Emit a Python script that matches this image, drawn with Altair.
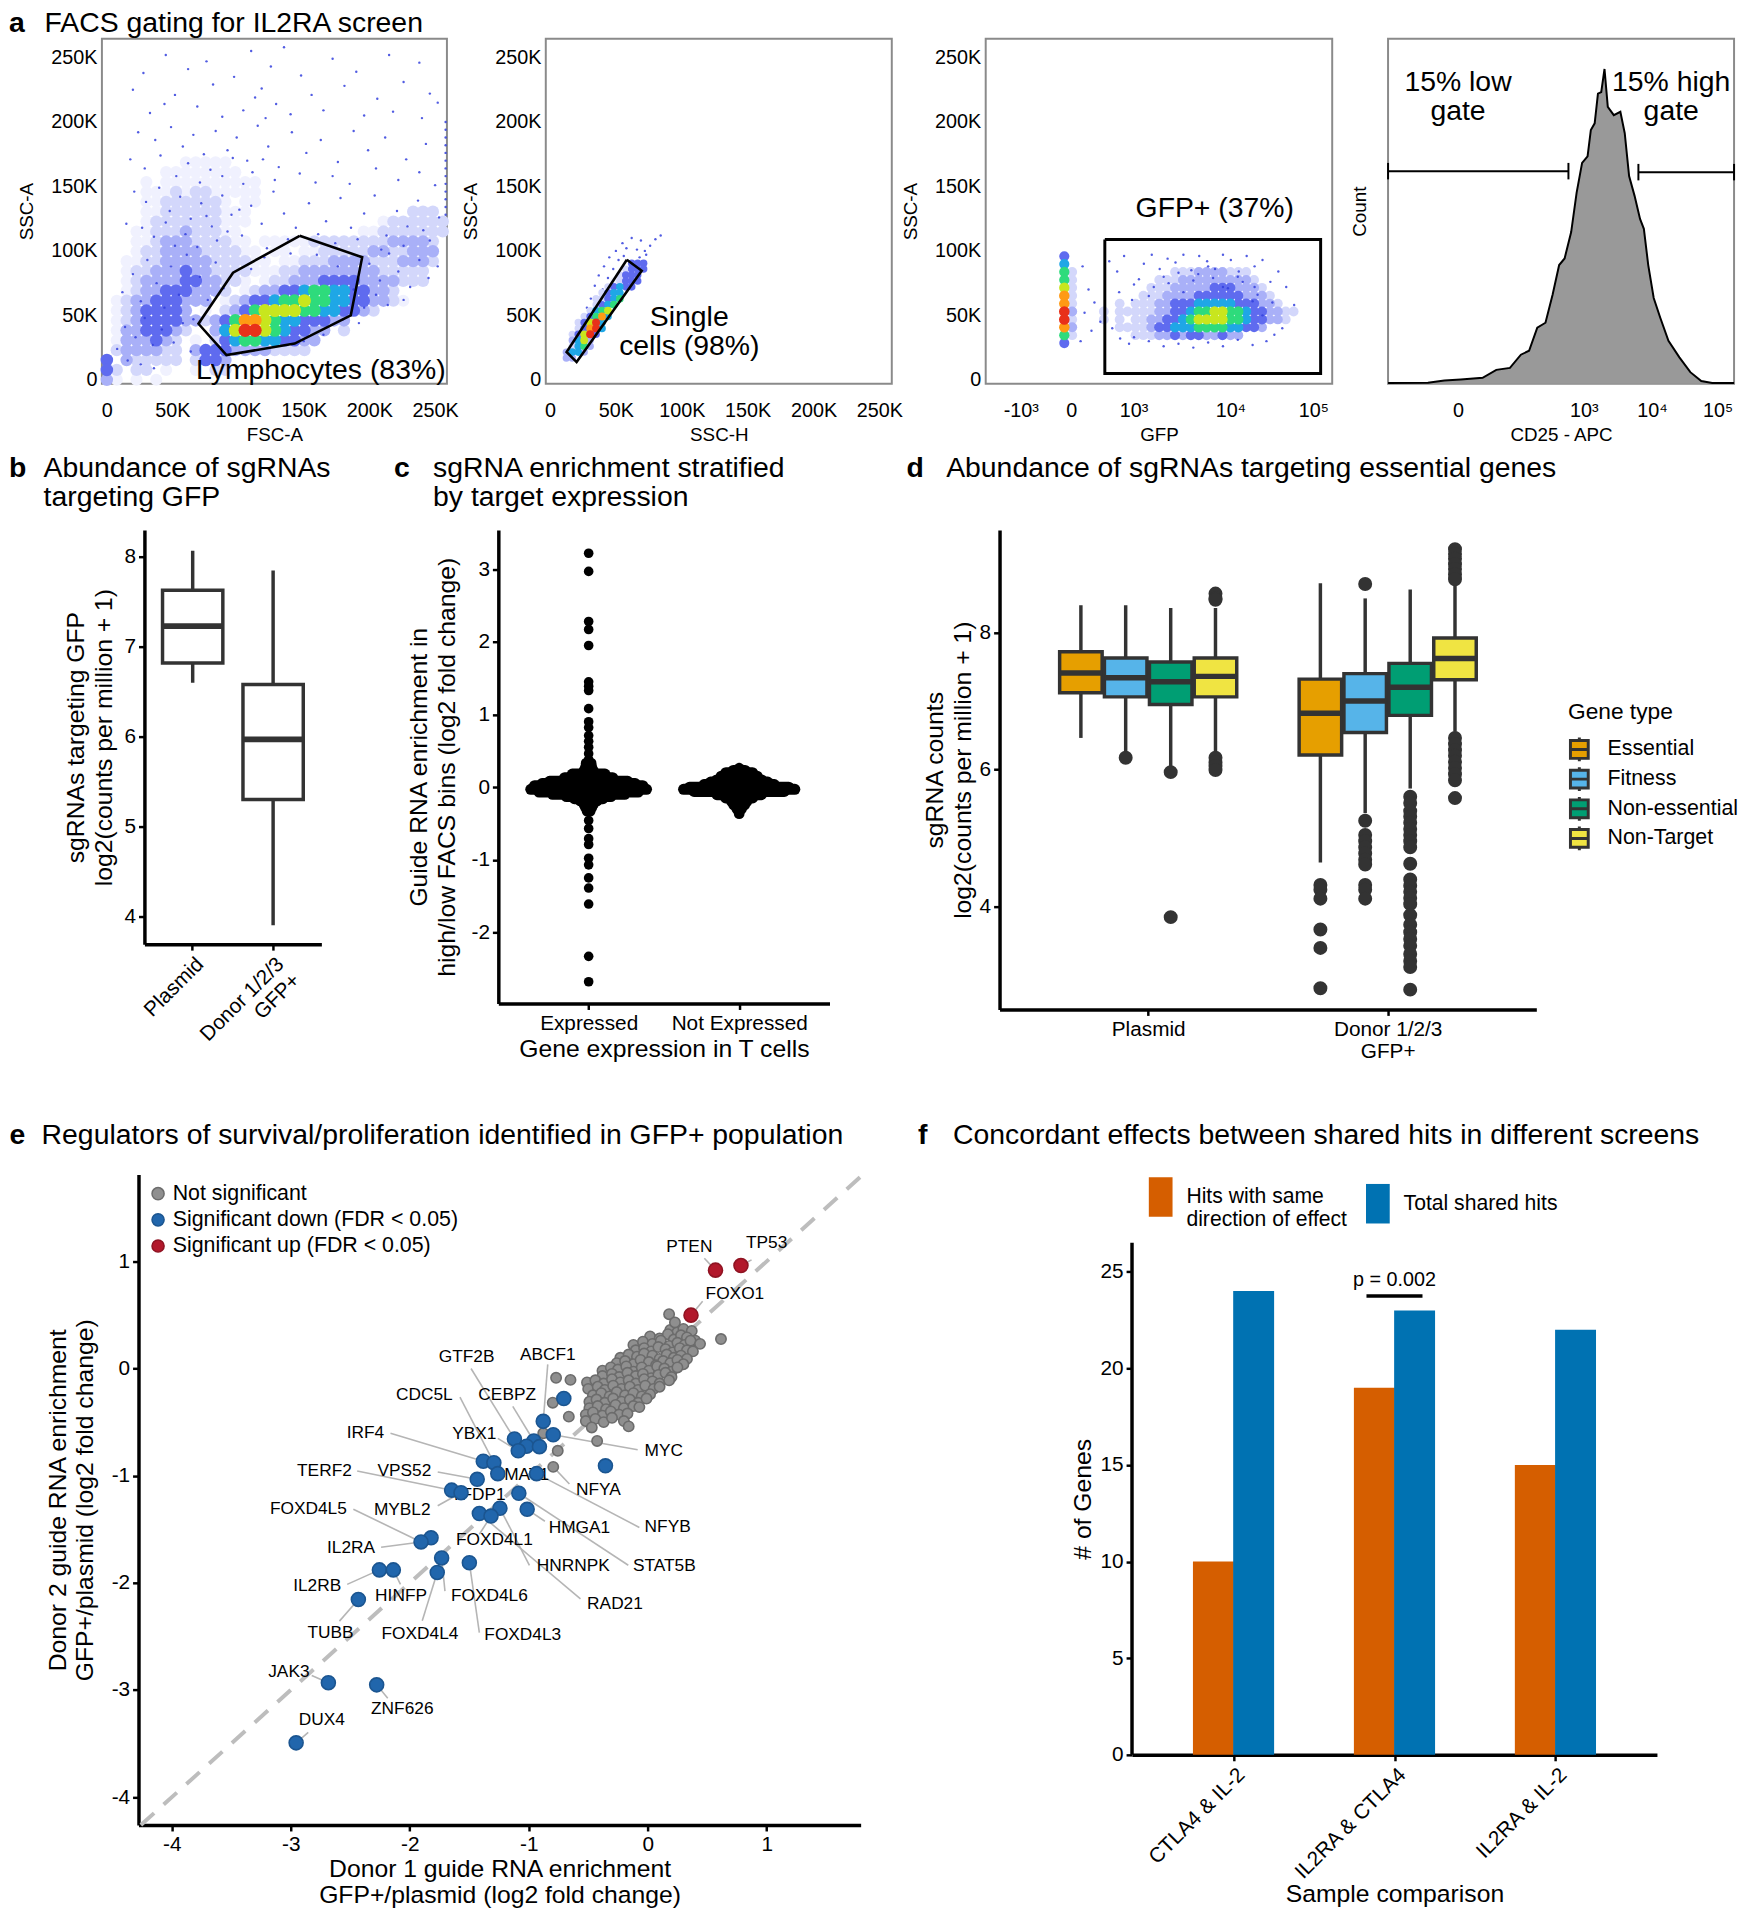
import altair as alt
import pandas as pd

FONT = "Liberation Sans"
TITLE_SIZE = 28.7

# ---------- row 1: density levels (2 light .. 9 peak), plus sparse dots ----------
fsc_ssc_rows = [
 "", "", "", "", "", "", "", "", "",
 "",
 "",
 "",
 "        11111",
 "      11111111",
 "    1 1111111111",
 "    111212211111",
 "    112222221 11",
 "    11222222111                222",
 "    12222222111             1222222",
 "   11222322211            112222222",
 "   112333222211 111112222222233332",
 "   1223333222211 11 11222223322333",
 "  112233333222211 1122233332223332",
 "  1223334332222111223333333322222",
 "  1233334433221 12233344443333222",
 "  12334443332 1233445665544332",
 " 1233444333 1234456676655443321",
 " 12344443 1 2346777766554432",
 " 123444433234688765544433",
 " 13344432  357997654433 2",
 " 1333432 1 24566554433",
 " 2333322 344433332222",
 "4 322222 2443",
 "42 22 1  1 22",
 "31 1 1",
]
fsc_dots_x = [45,62,28,76,110,125,135,148,172,190,215,238,20,52,81,97,118,129,156,181,206,226,246,33,44,69,88,104,113,121,140,165,196,218,240,252,
 24,37,49,58,66,74,83,92,99,107,115,123,131,141,152,163,176,188,199,212,228,243,18,29,41,53,62,71,79,88,96,104,111,119,128,147,159,172,185,205,222,238,250,
 21,30,40,48,56,64,72,80,88,95,103,110,118,127,135,144,154,167,178,186,196,204,213,221,229,237,246,253,15,27,36,45,52,60,69,76,84,92,101,122,138,161,174,191,209,226,241,
 12,20,26,31,38,44,49,55,61,66,71,77,83,89,14,22,29,35,42,51,58,64,8,16,26,36,200,208,215,222,231,238,245,252,205,214,226,196,188,176,160,140,120,110,150,165,180,192,
 258,258,258,258,258,258,258,258,258,258,258,258,258]
fsc_dots_y = [252,241,238,247,255,243,258,236,249,239,252,246,225,221,229,235,226,214,221,228,218,231,222,207,214,212,204,209,219,203,206,209,205,208,203,215,
 192,186,196,181,190,175,193,178,188,170,197,181,165,192,176,186,169,193,178,188,171,183,171,164,174,158,168,153,163,158,172,152,161,171,155,160,153,158,152,164,155,161,151,
 146,138,149,131,142,125,137,119,143,128,112,135,121,146,129,118,137,123,141,118,129,143,112,131,119,139,108,126,121,118,111,122,104,113,103,127,108,115,132,102,109,113,106,109,101,104,116,
 68,82,61,93,75,56,88,66,97,47,80,62,91,71,41,33,48,27,39,29,44,22,24,15,12,9,90,77,98,84,72,93,79,88,66,58,62,56,70,88,97,98,95,86,30,35,47,44,
 128,134,140,146,152,158,164,170,176,182,188,194,200]
ssc_h_rows = [
 "", "", "", "", "", "", "",
 "            444",
 "           2444",
 "          2444",
 "         12444",
 "        24544",
 "       2455",
 "      22456",
 "      2456",
 "     2567",
 "    24685",
 "   24795",
 "   24895",
 "  24794",
 "  3573",
 "  2563",
 " 3553",
 " 33",
]
ssc_dots_x = [55,62,69,76,80,84,50,58,66,73,45,52,70,48,41,44,37,40,34,31,36,28,26,30,23,56,72,68,47,39]
ssc_dots_y = [106,110,108,104,109,112,100,102,101,97,95,93,92,86,88,79,81,70,73,63,60,56,47,44,39,96,100,95,72,52]
gfp_rows = [
 "  4",
 "  5",
 "  62            2223333222",
 "  62          2223333333332",
 "  72         222333334443332",
 "  82        22233334444443332",
 "  82     2 2223344455555444332",
 "  93   2 22222334456677665443322",
 "  92   2 2 22334456777766544332",
 "  83     2222344555666655443",
 "  62       22233434433433",
 "  4",
]
gfp_dots_x = [98,104,110,116,107,100,96,125,133,140,148,155,128,136,160,168,176,184,192,200,208,216,224,232,240,248,256,264,272,280,288,296,304,312,300,292,284,270,255,240,225,210,195,180,165,150,145,290,280,272,170,185,200,215,230,245,260,275,135,150,165,180,195,210,225,240,255,270]
gfp_dots_y = [88,70,60,45,38,52,30,92,84,96,62,78,40,32,90,97,86,94,91,97,85,96,92,86,97,93,84,96,88,93,76,84,72,58,40,35,30,27,31,26,29,25,28,26,30,33,28,60,50,72,72,75,68,82,79,71,76,66,68,74,65,80,83,77,88,72,80,61]
LEVELS = list(range(1, 10))
LEVEL_COLORS = ["#f0f1fe", "#d3d7fb", "#a9b0f8", "#5f6bef", "#1fa7e6", "#2edb7c", "#c8e61e", "#ff9a14", "#e8301a"]
LEVEL_SIZES = [150, 180, 190, 190, 190, 190, 190, 190, 190]
DOT_COLOR = "#3340dd"

gate_a_x = [146.9, 194.5, 185.8, 143.1, 91.2, 69.9, 96.2, 146.9]
gate_a_y = [111.7, 95.1, 49.9, 28.1, 19.2, 43.5, 83.1, 111.7]
gate_b_x = [58.3, 69.6, 20.2, 12.6, 58.3]
gate_b_y = [93.1, 84.6, 13.8, 21.6, 93.1]
gate_c_x = [120.5, 338.8, 338.8, 120.5, 120.5]
gate_c_y = [108.9, 108.9, 4.9, 4.9, 108.9]

# histogram of CD25 - APC (biexponential display units, count height)
hist_x = [0,73,103,133,173,198,223,243,258,273,288,301,313,323,335,345,355,365,371,378,384,390,396,402,413,425,433,441,451,461,468,476,486,498,513,533,553,573,593,633]
hist_y = [2,3,10,13,18,42,48,88,100,170,185,270,360,380,460,580,670,690,770,790,880,885,955,840,815,825,760,630,570,500,470,360,260,200,130,80,35,8,2,2]

# ---------- panel b ----------
b_cats = ["Plasmid", "Donor 1/2/3|GFP+"]
b_low = [6.6, 3.9]
b_q1 = [6.82, 5.3]
b_med = [7.23, 5.97]
b_q3 = [7.63, 6.58]
b_high = [8.07, 7.85]

# ---------- panel c ----------
c_tail_y = [3.22,2.97,2.28,2.17,1.95,1.45,1.39,1.33,1.08,.9,.82,.71,.63,.55,.46,.38,-.46,-.57,-.71,-.79,-.98,-1.07,-1.25,-1.39,-1.61,-2.33,-2.68]
c_expr_y = [.33,.28,.23,.18,.13,.08,.05,.02,-.03,-.07,-.1,-.13,-.16,-.19,-.24,-.28,-.33]
c_expr_w = [.016,.02,.03,.109,.16,.26,.31,.36,.385,.33,.24,.148,.095,.056,.03,.02,.01]
c_not_y = [.26,.23,.2,.15,.1,.07,.035,0,-.03,-.06,-.105,-.15,-.2,-.245,-.3,-.365]
c_not_w = [0,.04,.089,.12,.15,.19,.234,.33,.37,.3,.148,.09,.05,.036,.015,0]

# ---------- panel d ----------
d_groups = [0.6, 1.6]
d_types = ["Essential", "Fitness", "Non-essential", "Non-Target"]
d_dodge = [-.281, -.094, .094, .281]
d_colors = ["#E69F00", "#56B4E9", "#009E73", "#F0E442"]
d_low = [[6.46, 6.25, 6.05, 6.14], [4.64, 5.36, 5.72, 6.55]]
d_q1 = [[7.12, 7.06, 6.95, 7.06], [6.21, 6.54, 6.79, 7.31]]
d_med = [[7.41, 7.34, 7.28, 7.36], [6.82, 7.0, 7.2, 7.62]]
d_q3 = [[7.72, 7.63, 7.57, 7.63], [7.32, 7.40, 7.55, 7.92]]
d_high = [[8.40, 8.40, 8.36, 8.36], [8.72, 8.50, 8.63, 8.75]]
d_out = [
 [[], [6.17], [5.96, 3.84], [8.57, 8.5, 8.48, 6.17, 6.1, 6.05, 5.99]],
 [[4.31, 4.24, 4.11, 3.66, 3.39, 2.80],
  [8.71, 5.25, 5.04, 4.95, 4.86, 4.77, 4.68, 4.61, 4.31, 4.24, 4.11],
  [5.6, 5.51, 5.39, 5.31, 5.22, 5.13, 5.04, 4.95, 4.86, 4.62, 4.39, 4.3, 4.21, 4.12, 4.03, 3.87, 3.73, 3.62, 3.52, 3.42, 3.3, 3.2, 3.11, 2.78],
  [9.22, 9.15, 9.08, 9.0, 8.93, 8.85, 8.78, 6.46, 6.37, 6.28, 6.2, 6.11, 6.02, 5.93, 5.84, 5.58]],
]

# ---------- panel e ----------
grey_x = [.19,.25,.30,.37,.02,.10,.17,.22,.28,.33,.40,-.12,-.04,.04,.11,.18,.25,.31,.36,.44,-.10,-.03,.03,.09,.15,.21,.27,.33,.38,
 -.23,-.16,-.09,-.03,.04,.10,.16,.22,.28,.33,-.26,-.19,-.12,-.06,.01,.07,.13,.19,.25,.30,-.38,-.31,-.25,-.18,-.12,-.05,.01,.08,.14,.2,.25,
 -.38,-.30,-.24,-.17,-.1,-.04,.03,.09,.15,.2,-.51,-.44,-.37,-.30,-.23,-.16,-.1,-.03,.04,.1,.18,-.50,-.42,-.36,-.29,-.22,-.15,-.08,-.02,.05,.1,
 -.46,-.39,-.32,-.26,-.19,-.12,-.05,.02,-.49,-.43,-.36,-.29,-.22,-.15,-.08,-.01,-.49,-.42,-.35,-.27,-.2,-.12,-.07,-.52,-.46,-.38,-.31,-.24,-.17,-.52,-.44,-.37,-.3,-.2,-.47,-.16,
 .616,.18,.229,-.77,-.649,-.798,-.663,-.878,-.756,-.794,-.425]
grey_y = [.36,.34,.37,.35,.30,.28,.32,.27,.31,.29,.26,.22,.25,.23,.26,.21,.24,.22,.26,.23,.17,.19,.16,.2,.18,.15,.19,.17,.16,
 .10,.13,.11,.14,.12,.09,.13,.1,.12,.09,.05,.07,.04,.08,.06,.03,.07,.05,.08,.04,-.02,.01,-.01,.02,-.03,.01,-.02,.02,.0,-.03,.01,
 -.07,-.05,-.08,-.04,-.07,-.05,-.09,-.06,-.04,-.08,-.13,-.11,-.14,-.1,-.13,-.11,-.14,-.1,-.12,-.14,-.11,-.19,-.17,-.2,-.16,-.19,-.17,-.2,-.16,-.19,-.17,
 -.25,-.23,-.26,-.22,-.25,-.23,-.26,-.24,-.31,-.29,-.32,-.28,-.31,-.29,-.32,-.28,-.37,-.35,-.38,-.34,-.37,-.35,-.36,-.43,-.41,-.44,-.4,-.43,-.42,-.49,-.47,-.5,-.46,-.49,-.55,-.54,
 .275,.507,.43,-.087,-.106,-.319,-.449,-.604,-.768,-.918,-.676]
blue_x = [-.705,-.878,-.794,-1.12,-.957,-1.018,-.91,-1.088,-1.382,-1.293,-1.26,-.934,-1.433,-1.648,-1.569,-1.083,-1.013,-1.242,-1.415,-1.317,-1.821,-1.905,-1.732,-1.499,-2.255,-2.138,-1.769,-2.432,-.355,-2.684,-2.278,-2.955]
blue_y = [-.28,-.493,-.618,-.657,-.676,-.725,-.729,-.768,-.865,-.879,-.981,-.981,-1.034,-1.135,-1.159,-1.164,-1.314,-1.304,-1.353,-1.377,-1.58,-1.618,-1.768,-1.812,-1.879,-1.879,-1.903,-2.155,-.908,-2.932,-2.952,-3.493]
red_x = [.57, .784, .364]
red_y = [.918, .961, .498]
gene_names = ["PTEN","TP53","FOXO1","GTF2B","ABCF1","CDC5L","CEBPZ","IRF4","YBX1","MYC","TERF2","VPS52","MAT1","NFYA","TFDP1","FOXD4L5","MYBL2","HMGA1","NFYB","FOXD4L1","IL2RA","HNRNPK","STAT5B","IL2RB","HINFP","FOXD4L6","RAD21","TUBB","FOXD4L4","FOXD4L3","JAK3","ZNF626","DUX4"]
gene_x = [.35,1.0,.733,-1.522,-.84,-1.877,-1.181,-2.372,-1.457,.135,-2.717,-2.045,-1.018,-.415,-1.424,-2.852,-2.063,-.574,.168,-1.289,-2.493,-.626,.14,-2.778,-2.073,-1.331,-.275,-2.666,-1.914,-1.05,-3.016,-2.063,-2.74]
gene_y = [1.135,1.169,.691,.111,.121,-.251,-.251,-.604,-.614,-.768,-.957,-.961,-.995,-1.135,-1.184,-1.314,-1.319,-1.488,-1.483,-1.604,-1.676,-1.841,-1.841,-2.034,-2.121,-2.121,-2.198,-2.473,-2.478,-2.488,-2.831,-3.179,-3.28]
seg_x1 = [.476,.873,.462,-1.485,-.84,-1.578,-1.134,-2.162,-1.26,-.084,-2.442,-1.765,-.658,-.07,-1.765,-2.474,-.864,-1.415,-2.241,-.994,-.163,-2.526,-2.078,-1.704,-.565,-2.591,-1.895,-1.415,-2.824,-2.185,-2.853]
seg_y1 = [1.029,1.014,.628,0,.039,-.266,-.353,-.604,-.652,-.758,-.957,-.966,-1.077,-1.483,-1.28,-1.314,-1.425,-1.546,-1.667,-1.836,-1.836,-2.014,-2.014,-2.077,-2.15,-2.357,-2.353,-2.464,-2.865,-3.077,-3.396]
seg_x2 = [.57,.784,.364,-1.12,-.878,-1.293,-.957,-1.382,-1.088,-.794,-1.648,-1.433,-.794,-.934,-1.569,-1.905,-1.013,-1.317,-1.905,-1.242,-1.083,-2.255,-2.138,-1.732,-1.415,-2.432,-1.769,-1.499,-2.684,-2.278,-2.955]
seg_y2 = [.918,.961,.498,-.657,-.493,-.879,-.676,-.865,-.768,-.618,-1.135,-1.034,-.918,-.981,-1.159,-1.618,-1.314,-1.377,-1.618,-1.304,-1.164,-1.879,-1.879,-1.768,-1.353,-2.155,-1.903,-1.812,-2.932,-2.952,-3.493]

# ---------- panel f ----------
f_cats = ["CTLA4 & IL-2", "IL2RA & CTLA4", "IL2RA & IL-2"]
f_pos = [0.6, 1.6, 2.6]
f_same = [10, 19, 15]
f_total = [24, 23, 22]
f_series = ["Hits with same|direction of effect", "Total shared hits"]
f_colors = ["#D55E00", "#0072B2"]

INDEP = dict(color="independent", fill="independent", stroke="independent", size="independent")


# ---------- helpers ----------
def text_at(s, x, y, size=TITLE_SIZE, weight="normal"):
    return alt.Chart(pd.DataFrame({"t": [s]})).mark_text(
        align="left", baseline="middle", fontSize=size, fontWeight=weight, font=FONT, color="black"
    ).encode(x=alt.value(x), y=alt.value(y), text="t:N")


def spacer(w, h):
    return alt.Chart(pd.DataFrame({"s": [0]})).mark_point(opacity=0).encode(
        x=alt.value(0), y=alt.value(0)).properties(width=w, height=h)


def row(items):
    return alt.hconcat(*items, spacing=0, bounds="flush").resolve_scale(**INDEP)


def grid_df(rows, x0, dx, y0, dy):
    out = []
    for r, line in enumerate(rows):
        for c, ch in enumerate(line):
            if ch != " ":
                out.append({"x": x0 + dx * c, "y": y0 - dy * r, "lvl": int(ch)})
    return pd.DataFrame(out).sort_values("lvl", kind="stable")


K_VALUES = [0, 50, 100, 150, 200, 250]
K_EXPR = "datum.value == 0 ? '0' : datum.value + 'K'"
YK = alt.Y("y:Q", scale=alt.Scale(domain=[-3, 264.6], nice=False),
           axis=alt.Axis(values=K_VALUES, labelExpr=K_EXPR, title="SSC-A", tickSize=0, domain=False, grid=False,
                         labelFontSize=20, labelPadding=5, titleFontSize=19, titleFontWeight="normal", titlePadding=14.5))


def xk(title, lo):
    return alt.X("x:Q", scale=alt.Scale(domain=[lo, lo + 262.6], nice=False),
                 axis=alt.Axis(values=K_VALUES, labelExpr=K_EXPR, title=title, tickSize=0, domain=False, grid=False,
                               labelFontSize=20, labelPadding=17.5, labelFlush=False, titleFontSize=19, titleFontWeight="normal", titlePadding=5))


def density(df, xenc, factor):
    return alt.Chart(df).mark_circle(opacity=1).encode(
        x=xenc, y=YK,
        color=alt.Color("lvl:O", scale=alt.Scale(domain=LEVELS, range=LEVEL_COLORS), legend=None),
        size=alt.Size("lvl:O", scale=alt.Scale(domain=LEVELS, range=[s * factor for s in LEVEL_SIZES]), legend=None),
    )


def dots(xs, ys, xenc):
    return alt.Chart(pd.DataFrame({"x": xs, "y": ys})).mark_circle(size=6, opacity=.85, color=DOT_COLOR).encode(x=xenc, y=YK)


def gate(xs, ys, xenc, width=2.6):
    d = pd.DataFrame({"x": xs, "y": ys, "o": range(len(xs))})
    return alt.Chart(d).mark_line(color="black", strokeWidth=width).encode(x=xenc, y=YK, order="o:Q")


def data_text(lines, xenc, yenc=YK, size=TITLE_SIZE):
    d = pd.DataFrame(lines, columns=["t", "x", "y"])
    return alt.Chart(d).mark_text(fontSize=size, font=FONT, color="black", baseline="middle").encode(x=xenc, y=yenc, text="t:N")


BOX = alt.ViewConfig(stroke="#8a8a8a", strokeWidth=2)

# ---------- row 1 ----------
xa = xk("FSC-A", -3.6)
pa = alt.layer(
    density(grid_df(fsc_ssc_rows, .16, 7.52, 260.8, 7.67), xa, 1),
    dots(fsc_dots_x, fsc_dots_y, xa),
    gate(gate_a_x, gate_a_y, xa),
    data_text([("Lymphocytes (83%)", 163, 7.5)], xa),
    text_at("a", -94, -15.5, weight="bold"),
    text_at("FACS gating for IL2RA screen", -58, -15.5),
).properties(width=349, height=349, view=BOX)

xb = xk("SSC-H", -3.2)
pb = alt.layer(
    dots(ssc_dots_x, ssc_dots_y, xb),
    density(grid_df(ssc_h_rows, 7.9, 4.51, 122.7, 4.6), xb, .36),
    gate(gate_b_x, gate_b_y, xb),
    data_text([("Single", 105.7, 48.5), ("cells (98%)", 105.7, 26.5)], xb),
).properties(width=350, height=349, view=BOX)

GFP_LABELS = "datum.value == 35.5 ? '-10³' : datum.value == 86.5 ? '0' : datum.value == 149.5 ? '10³' : datum.value == 247.5 ? '10⁴' : '10⁵'"
xc = alt.X("x:Q", scale=alt.Scale(domain=[0, 350.5], nice=False),
           axis=alt.Axis(values=[35.5, 86.5, 149.5, 247.5, 331.5], labelExpr=GFP_LABELS, title="GFP", tickSize=0, domain=False, grid=False,
                         labelFontSize=20, labelPadding=17.5, titleFontSize=19, titleFontWeight="normal", titlePadding=5))
pc = alt.layer(
    density(grid_df(gfp_rows, 63.5, 8, 95.9, 6.13), xc, .64),
    dots(gfp_dots_x, gfp_dots_y, xc),
    gate(gate_c_x, gate_c_y, xc, 3),
    data_text([("GFP+ (37%)", 231.7, 133)], xc),
).properties(width=350.5, height=349, view=BOX)

CD25_LABELS = "datum.value == 128 ? '0' : datum.value == 358 ? '10³' : datum.value == 483 ? '10⁴' : '10⁵'"
xh = alt.X("x:Q", scale=alt.Scale(domain=[0, 633], nice=False),
           axis=alt.Axis(values=[128, 358, 483, 603], labelExpr=CD25_LABELS, title="CD25 - APC", tickSize=0, domain=False, grid=False,
                         labelFontSize=20, labelPadding=17.5, titleFontSize=19, titleFontWeight="normal", titlePadding=5))
yh = alt.Y("y:Q", scale=alt.Scale(domain=[0, 1047], nice=False),
           axis=alt.Axis(labels=False, ticks=False, domain=False, grid=False, title="Count", titleFontSize=19, titleFontWeight="normal", titlePadding=19))
hist = pd.DataFrame({"x": hist_x, "y": hist_y})
bars_h = pd.DataFrame({"x": [0, 458], "x2": [330, 633], "y": [645, 642]})
caps_h = pd.DataFrame({"x": [0, 330, 458, 633], "y": [620, 620, 617, 617], "y2": [670, 670, 667, 667]})
pd_hist = alt.layer(
    alt.Chart(hist).mark_area(color="#999999").encode(x=xh, y=yh),
    alt.Chart(hist).mark_line(color="black", strokeWidth=2).encode(x=xh, y=yh),
    alt.Chart(bars_h).mark_rule(color="black", strokeWidth=2).encode(x=xh, x2="x2:Q", y=yh),
    alt.Chart(caps_h).mark_rule(color="black", strokeWidth=2).encode(x=xh, y=yh, y2="y2:Q"),
    data_text([("15% low", 128, 915), ("gate", 128, 828), ("15% high", 518, 915), ("gate", 518, 828)], xh, yh),
).properties(width=350, height=349, view=BOX)

row1 = row([pa, spacer(99.4, 1), pb, spacer(94.9, 1), pc, spacer(55.2, 1), pd_hist])

# ---------- row 2 / 3 common axis styling ----------
AX = dict(domainColor="black", domainWidth=3.5, tickColor="black", tickWidth=2.5, tickSize=6, labelColor="black",
          labelFontSize=21, titleFontSize=25, titleColor="black", titleFontWeight="normal", grid=False, labelPadding=3, titleLineHeight=28)
NUM = "'' + datum.value"
BAND = alt.Scale(paddingInner=0, paddingOuter=.1)
INK = "#333333"

# ---------- panel b ----------
dfb = pd.DataFrame({"cat": b_cats, "low": b_low, "q1": b_q1, "med": b_med, "q3": b_q3, "high": b_high})
BY = alt.Scale(domain=[3.69, 8.3], nice=False)
BYAX = alt.Axis(values=[4, 5, 6, 7, 8], title=["sgRNAs targeting GFP", "log2(counts per million + 1)"], titlePadding=7.5, **AX)
xbx = alt.X("cat:N", sort=b_cats, scale=BAND,
            axis=alt.Axis(title=None, labelAngle=-45, labelExpr="split(datum.label, '|')", labelAlign="right", **AX))
panel_b = alt.layer(
    alt.Chart(dfb).mark_rule(color=INK, strokeWidth=3.5).encode(x=xbx, y=alt.Y("low:Q", scale=BY, axis=BYAX), y2="high:Q"),
    alt.Chart(dfb).mark_bar(size=61, fill="white", stroke=INK, strokeWidth=3.5).encode(
        x=xbx, y=alt.Y("q1:Q", scale=BY, axis=BYAX), y2="q3:Q"),
    alt.Chart(dfb).mark_tick(size=61, thickness=6, color=INK, opacity=1).encode(
        x=xbx, y=alt.Y("med:Q", scale=BY, axis=BYAX)),
    text_at("b", -137, -62.5, weight="bold"),
    text_at("Abundance of sgRNAs", -102, -62.5),
    text_at("targeting GFP", -102, -33),
).properties(width=179, height=419)

# ---------- panel c ----------
C_EXPR = "datum.value < 1 ? 'Expressed' : 'Not Expressed'"
xcx = alt.X("x:Q", scale=alt.Scale(domain=[0, 2.2], nice=False),
            axis=alt.Axis(values=[.6, 1.6], labelExpr=C_EXPR, title="Gene expression in T cells", titlePadding=4, **AX))
ycx = alt.Y("y:Q", scale=alt.Scale(domain=[-2.98, 3.54], nice=False),
            axis=alt.Axis(values=[-2, -1, 0, 1, 2, 3], labelExpr=NUM, title=["Guide RNA enrichment in", "high/low FACS bins (log2 fold change)"], titlePadding=12, **AX))
swarm = pd.concat([
    pd.DataFrame({"y": c_expr_y, "x": [.6 - w for w in c_expr_w], "x2": [.6 + w for w in c_expr_w]}),
    pd.DataFrame({"y": c_not_y, "x": [1.6 - w for w in c_not_w], "x2": [1.6 + w for w in c_not_w]}),
])
tail = pd.DataFrame({"x": .6, "y": c_tail_y})
panel_c = alt.layer(
    alt.Chart(swarm).mark_rule(color="black", strokeWidth=11, strokeCap="round").encode(x=xcx, x2="x2:Q", y=ycx),
    alt.Chart(tail).mark_circle(size=95, color="black", opacity=1).encode(x=xcx, y=ycx),
    text_at("c", -105.6, -62.5, weight="bold"),
    text_at("sgRNA enrichment stratified", -66, -62.5),
    text_at("by target expression", -66, -33),
).properties(width=335, height=479)

# ---------- panel d ----------
recs, outs = [], []
for gi, g in enumerate(d_groups):
    for ti, t in enumerate(d_types):
        pos = g + d_dodge[ti]
        recs.append({"x": pos, "t": t, "low": d_low[gi][ti], "q1": d_q1[gi][ti], "med": d_med[gi][ti], "q3": d_q3[gi][ti], "high": d_high[gi][ti]})
        outs += [{"x": pos, "v": v} for v in d_out[gi][ti]]
dfd, dfo = pd.DataFrame(recs), pd.DataFrame(outs)
D_LABELS = "datum.value < 1 ? 'Plasmid' : ['Donor 1/2/3', 'GFP+']"
xdx = alt.X("x:Q", scale=alt.Scale(domain=[0, 2.2], nice=False),
            axis=alt.Axis(values=[.6, 1.6], title=None, labelAngle=0, labelExpr=D_LABELS, labelLineHeight=23, **AX))
DDOM = alt.Scale(domain=[2.49, 9.5], nice=False)
DAX = alt.Axis(values=[4, 6, 8], title=["sgRNA counts", "log2(counts per million + 1)"], titlePadding=4, **AX)
SYM = "M-0.9,-0.9H0.9V0.9H-0.9ZM-0.9,0H0.9M0,-0.9V-1.2M0,0.9V1.2"
panel_d = alt.layer(
    alt.Chart(dfd).mark_rule(color=INK, strokeWidth=3.5).encode(x=xdx, y=alt.Y("low:Q", scale=DDOM, axis=DAX), y2="high:Q"),
    alt.Chart(dfo).mark_circle(size=200, color=INK, opacity=1).encode(x=xdx, y=alt.Y("v:Q", scale=DDOM, axis=DAX)),
    alt.Chart(dfd).mark_bar(size=43, stroke=INK, strokeWidth=3.5, orient="vertical").encode(
        x=xdx, y=alt.Y("q1:Q", scale=DDOM, axis=DAX), y2="q3:Q",
        fill=alt.Fill("t:N", sort=d_types, scale=alt.Scale(domain=d_types, range=d_colors),
                      legend=alt.Legend(title="Gene type", orient="none", legendX=575, legendY=173.5, symbolType=SYM, symbolSize=400,
                                        symbolStrokeColor=INK, symbolStrokeWidth=3, labelFontSize=21.6, titleFontSize=23, titleFontWeight="normal",
                                        labelFont=FONT, titleFont=FONT, rowPadding=-19.5, titlePadding=14, labelOffset=17))),
    alt.Chart(dfd).mark_tick(size=43, thickness=5.5, color=INK, opacity=1, orient="horizontal").encode(x=xdx, y=alt.Y("med:Q", scale=DDOM, axis=DAX)),
    text_at("d", -94, -62.5, weight="bold"),
    text_at("Abundance of sgRNAs targeting essential genes", -54, -62.5),
).properties(width=543, height=485)

# ---------- panel e ----------
E_TYPES = ["Not significant", "Significant down (FDR < 0.05)", "Significant up (FDR < 0.05)"]
E_FILL = ["#8f8f8f", "#2166AC", "#B2182B"]
E_EDGE = ["#6c6c6c", "#1b5590", "#8f1322"]
EX = alt.Scale(domain=[-4.28, 1.79], nice=False)
EY = alt.Scale(domain=[-4.26, 1.81], nice=False)
AXE = {k: v for k, v in AX.items() if k != "titleLineHeight"}
ex_enc = alt.X("x:Q", scale=EX, axis=alt.Axis(values=[-4, -3, -2, -1, 0, 1], labelExpr=NUM, title=["Donor 1 guide RNA enrichment", "GFP+/plasmid (log2 fold change)"], titlePadding=2, titleLineHeight=26, **AXE))
ey_enc = alt.Y("y:Q", scale=EY, axis=alt.Axis(values=[-4, -3, -2, -1, 0, 1], labelExpr=NUM, title=["Donor 2 guide RNA enrichment", "GFP+/plasmid (log2 fold change)"], titlePadding=13.5, **AX))
diag = pd.DataFrame({"x": [-4.26], "x2": [1.79], "y": [-4.26], "y2": [1.79]})
segs = pd.DataFrame({"x": seg_x1, "x2": seg_x2, "y": seg_y1, "y2": seg_y2})
labs = pd.DataFrame({"x": gene_x, "y": gene_y, "t": gene_names})


def pts(xs, ys, cat, size):
    d = pd.DataFrame({"x": xs, "y": ys, "cat": cat})
    return alt.Chart(d).mark_point(filled=True, size=size, opacity=1, strokeWidth=1.6).encode(
        x=ex_enc, y=ey_enc,
        fill=alt.Fill("cat:N", sort=E_TYPES, scale=alt.Scale(domain=E_TYPES, range=E_FILL),
                      legend=alt.Legend(title=None, orient="none", legendX=9, legendY=8.5, symbolSize=150, labelFontSize=21.6, labelFont=FONT, rowPadding=3.5,
                                        symbolStrokeWidth=1.5, labelOffset=4, labelLimit=400)),
        stroke=alt.Stroke("cat:N", sort=E_TYPES, scale=alt.Scale(domain=E_TYPES, range=E_EDGE), legend=None),
    )


panel_e = alt.layer(
    alt.Chart(diag).mark_rule(color="#bdbdbd", strokeWidth=4, strokeDash=[18, 13]).encode(x=ex_enc, x2="x2:Q", y=ey_enc, y2="y2:Q"),
    alt.Chart(segs).mark_rule(color="#b5b5b5", strokeWidth=1.6).encode(x=ex_enc, x2="x2:Q", y=ey_enc, y2="y2:Q"),
    pts(grey_x, grey_y, E_TYPES[0], 110),
    alt.Chart(labs).mark_text(fontSize=17.5, font=FONT, color="black", baseline="middle").encode(x=ex_enc, y=ey_enc, text="t:N"),
    pts(blue_x, blue_y, E_TYPES[1], 200),
    pts(red_x, red_y, E_TYPES[2], 200),
    text_at("e", -130.5, -40, weight="bold"),
    text_at("Regulators of survival/proliferation identified in GFP+ population", -98, -40),
).properties(width=730.5, height=658)

# ---------- panel f ----------
dff = pd.DataFrame({
    "x": [p - .125 for p in f_pos] + [p + .125 for p in f_pos],
    "s": [f_series[0]] * 3 + [f_series[1]] * 3,
    "v": f_same + f_total,
})
FY = alt.Scale(domain=[0, 30.03], nice=False)
FAX = alt.Axis(values=[0, 5, 10, 15, 20, 25], title="# of Genes", titlePadding=5, domain=False, titleY=328, **{k: v for k, v in AX.items() if not k.startswith("domain")})
F_LABELS = "datum.value < 1 ? 'CTLA4 & IL-2' : datum.value < 2 ? 'IL2RA & CTLA4' : 'IL2RA & IL-2'"
xf = alt.X("x:Q", scale=alt.Scale(domain=[0, 3.2], nice=False),
           axis=alt.Axis(values=f_pos, labelExpr=F_LABELS, title="Sample comparison", labelAngle=-45, labelAlign="right", titleY=128, **AX))
pline = pd.DataFrame({"x": [1.426], "x2": [1.774], "y": [23.75]})
ptext = pd.DataFrame({"x": [1.6], "y": [24.55], "t": ["p = 0.002"]})
yline = pd.DataFrame({"y": [0], "y2": [26.5]})
panel_f = alt.layer(
    alt.Chart(dff).mark_bar(size=41.4, orient="vertical").encode(
        x=xf, y=alt.Y("v:Q", scale=FY, axis=FAX, stack=None),
        color=alt.Color("s:N", sort=f_series, scale=alt.Scale(domain=f_series, range=f_colors),
                        legend=alt.Legend(title=None, orient="none", direction="horizontal", columns=2, legendX=9, legendY=2.5,
                                          symbolType="M-0.6,-1H0.6V1H-0.6Z", symbolSize=1600, symbolStrokeWidth=0, labelFontSize=21.4, labelFont=FONT,
                                          labelExpr="split(datum.label, '|')", labelOffset=6, columnPadding=10.7, labelLimit=300))),
    alt.Chart(yline).mark_rule(color="black", strokeWidth=3.5).encode(x=alt.value(0), y=alt.Y("y:Q", scale=FY, axis=FAX), y2="y2:Q"),
    alt.Chart(pline).mark_rule(color="black", strokeWidth=3.5).encode(x=xf, x2="x2:Q", y=alt.Y("y:Q", scale=FY, axis=FAX)),
    alt.Chart(ptext).mark_text(fontSize=20, font=FONT, color="black", baseline="middle").encode(x=xf, y=alt.Y("y:Q", scale=FY, axis=FAX), text="t:N"),
    text_at("f", -216.6, -40, weight="bold"),
    text_at("Concordant effects between shared hits in different screens", -181, -40),
).properties(width=531, height=587)

row2 = row([spacer(43, 1), panel_b, spacer(178.8, 1), panel_c, spacer(171.7, 1), panel_d])
row3 = row([spacer(36.5, 1), panel_e, spacer(273.3, 1), panel_f])

lower = alt.vconcat(row2, row3, spacing=60).resolve_scale(**INDEP)
chart = alt.vconcat(row1, lower, spacing=8).resolve_scale(**INDEP).properties(
    padding={"left": 0, "top": -11, "right": 0, "bottom": 0}
).configure(font=FONT).configure_view(stroke=None)

chart.save("out.html", embed_options={"renderer": "svg", "actions": False})
